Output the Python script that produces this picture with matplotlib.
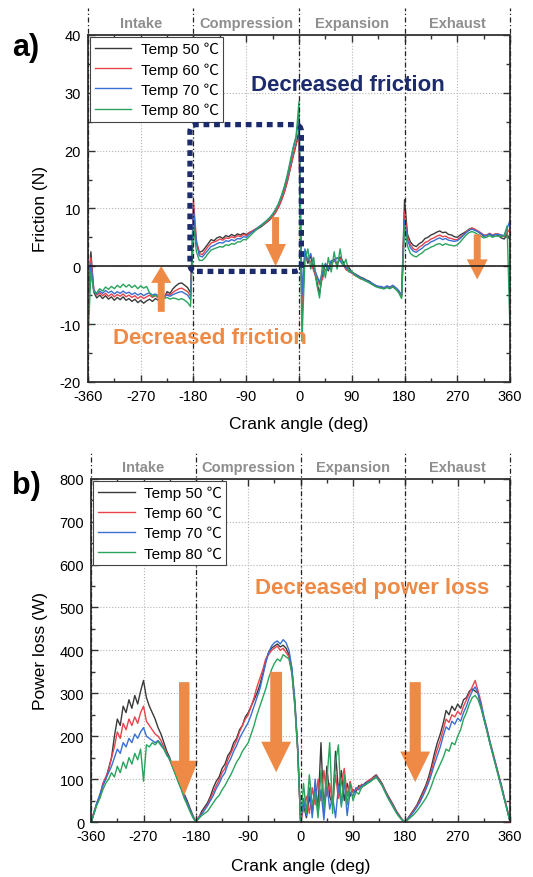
import numpy as np
import matplotlib
matplotlib.use('Agg')
import matplotlib.pyplot as plt
import matplotlib.transforms as mtransforms
from matplotlib.patches import FancyBboxPatch

plt.rcParams['font.family'] = ['Liberation Sans', 'Noto Sans CJK KR', 'DejaVu Sans']
plt.rcParams['axes.unicode_minus'] = False

# crank angle grid, 5 deg steps over the 4-stroke cycle
crank_angle = list(range(-360, 361, 5))

legend_labels = ['Temp 50 ℃', 'Temp 60 ℃', 'Temp 70 ℃', 'Temp 80 ℃']
line_colors = ['#3a3a3a', '#e8434c', '#3a6fd3', '#2aa35c']

phase_names = ['Intake', 'Compression', 'Expansion', 'Exhaust']
phase_centers = [-270, -90, 90, 270]
phase_edges = [-360, -180, 0, 180, 360]

# friction force (N)
friction_50 = [
    -6.0, 2.5, -4.5, -5.5, -5.0, -5.6, -5.1, -5.7, -5.3,
    -5.9, -5.4, -5.8, -5.3, -5.9, -5.6, -6.1, -5.7, -6.3,
    -5.9, -6.4, -6.0, -5.7, -6.1, -5.6, -5.9, -5.3, -5.5,
    -4.4, -4.7, -3.9, -3.4, -3.0, -2.9, -3.3, -3.7, -4.6,
    8.5, 4.0, 2.4, 2.6, 3.2, 3.9, 4.6, 4.4, 4.9,
    5.1, 4.8, 5.3, 5.1, 5.5, 5.2, 5.6, 5.4, 5.7,
    5.5, 5.8, 6.0, 6.2, 6.5, 6.8, 7.2, 7.6, 8.0,
    8.6, 9.3, 10.2, 11.4, 12.8, 14.6, 16.8, 19.0, 21.0,
    23.5, -9.0, 2.5, 0.5, 1.8, -0.5, -2.5, -4.8, -1.5,
    0.3, -0.8, 0.6, 1.2, 0.2, 1.6, 0.8, -0.4, -0.2,
    -1.0, -1.3, -1.6, -1.9, -2.1, -2.4, -2.6, -3.0, -3.3,
    -3.5, -3.7, -3.9, -3.6, -3.8, -3.5, -3.9, -4.4, -5.2,
    11.5, 5.5, 4.2, 3.6, 3.4, 3.9, 4.2, 4.8, 5.0,
    5.4, 5.6, 5.9, 6.1, 5.8, 5.9, 5.5, 5.4, 5.1,
    5.0, 5.4, 5.7, 6.0, 6.4, 6.6, 6.3, 6.0, 5.6,
    5.2, 5.3, 5.6, 5.2, 5.5, 5.3, 4.9, 4.7, 5.5,
    4.5]
friction_60 = [
    -4.0, 1.5, -4.0, -5.0, -4.6, -5.1, -4.7, -5.2, -4.8,
    -5.3, -4.9, -5.2, -4.8, -5.3, -5.0, -5.4, -5.1, -5.6,
    -5.2, -5.6, -5.3, -5.0, -5.4, -5.1, -5.5, -5.0, -5.3,
    -4.8, -5.0, -4.5, -4.2, -3.9, -3.8, -4.1, -4.4, -5.2,
    11.5, 4.5, 2.2, 2.0, 2.7, 3.4, 4.0, 4.2, 4.4,
    4.7, 4.5, 4.9, 4.8, 5.1, 4.9, 5.3, 5.1, 5.5,
    5.3, 5.8, 6.1, 6.4, 6.7, 7.0, 7.3, 7.7, 8.1,
    8.6, 9.3, 10.2, 11.5, 12.9, 14.7, 16.9, 19.2, 21.3,
    22.0, -7.0, 1.5, 1.2, 0.8, -0.8, -1.8, -3.2, -2.2,
    -0.6, -0.2, 0.4, 1.0, 0.6, 1.3, 0.4, -0.6, -0.9,
    -1.2, -1.6, -1.8, -2.2, -2.3, -2.6, -2.8, -3.1, -3.4,
    -3.6, -3.6, -3.8, -3.5, -3.7, -3.4, -3.8, -4.3, -5.3,
    9.5, 5.0, 3.7, 3.0, 2.8, 3.3, 3.6, 4.1, 4.3,
    4.7, 4.9, 5.2, 5.4, 5.1, 5.2, 4.9, 4.8, 4.6,
    4.6, 5.0, 5.4, 5.9, 6.3, 6.6, 6.4, 6.1, 5.8,
    5.4, 5.4, 5.7, 5.4, 5.6, 5.6, 5.3, 5.1, 5.8,
    6.5]
friction_70 = [
    -9.0, 0.5, -4.2, -4.8, -4.3, -4.7, -4.2, -4.6, -4.3,
    -4.8, -4.4, -4.7, -4.3, -4.7, -4.5, -4.9, -4.6, -5.0,
    -4.7, -5.1, -4.8, -4.6, -5.0, -4.8, -5.1, -4.9, -5.2,
    -5.0, -5.2, -4.9, -4.7, -4.5, -4.4, -4.7, -5.0, -5.8,
    10.0, 4.0, 1.8, 1.6, 2.2, 2.8, 3.4, 3.6, 3.9,
    4.1, 4.0, 4.4, 4.3, 4.6, 4.4, 4.8, 4.7, 5.1,
    5.0, 5.5, 5.9, 6.3, 6.7, 7.1, 7.5, 7.9, 8.4,
    9.0, 9.8, 10.8, 12.1, 13.6, 15.5, 17.8, 20.3, 22.3,
    26.0, -5.0, 3.0, 1.0, 2.2, 0.0, -1.5, -2.8, -1.0,
    0.5, -0.5, 1.0, 0.8, 1.5, 0.9, 0.2, -0.3, -0.7,
    -1.1, -1.4, -1.7, -2.0, -2.2, -2.5, -2.7, -3.0, -3.3,
    -3.5, -3.5, -3.7, -3.4, -3.6, -3.3, -3.7, -4.2, -5.0,
    8.0, 4.5, 3.2, 2.6, 2.4, 2.8, 3.1, 3.6, 3.8,
    4.2, 4.4, 4.7, 4.9, 4.6, 4.8, 4.5, 4.4, 4.3,
    4.4, 4.8, 5.3, 5.8, 6.2, 6.4, 6.2, 6.0, 5.7,
    5.3, 5.3, 5.6, 5.3, 5.5, 5.5, 5.4, 5.3, 6.5,
    8.0]
friction_80 = [
    -13.0, -1.0, -4.5, -4.6, -3.9, -4.3, -3.6, -4.0, -3.5,
    -3.9, -3.3, -3.7, -3.1, -3.6, -3.2, -3.7, -3.3, -3.9,
    -3.4, -3.8, -3.5, -4.6, -5.2, -5.0, -5.4, -5.2, -5.6,
    -5.4, -5.7, -5.5, -5.6, -5.8, -5.6, -5.9, -6.3, -7.0,
    7.0, 2.5, 1.0, 1.0, 1.5, 2.2, 2.8, 3.0, 3.2,
    3.4, 3.3, 3.7, 3.6, 3.9, 3.8, 4.2, 4.2, 4.6,
    4.6, 5.1, 5.6, 6.1, 6.6, 7.0, 7.4, 7.9, 8.4,
    9.0, 9.8, 10.8, 12.2, 13.8, 15.8, 18.2, 20.6, 22.5,
    28.5, -13.0, 1.0, 3.0, -0.5, 1.5, -3.0, -5.5, 0.5,
    -2.0, 1.5, -1.0, 2.5, -0.5, 3.0, 0.0, 1.2, -1.0,
    -0.8, -1.5, -1.9, -2.1, -2.4, -2.6, -2.9, -3.2, -3.5,
    -3.7, -3.8, -3.9, -3.7, -3.9, -3.6, -4.0, -4.6, -5.6,
    7.0, 3.5, 2.2, 1.8, 1.6, 2.0, 2.3, 2.8, 3.0,
    3.3, 3.5, 3.8, 3.9, 3.6, 3.9, 3.7, 3.6, 3.5,
    3.7, 4.2, 4.8, 5.4, 5.8, 6.0, 5.8, 5.5, 5.2,
    4.9, 5.0, 5.3, 5.0, 5.2, 5.2, 5.1, 5.3, 7.0,
    -12.0]

# friction power loss (W)
power_50 = [
    0, 20, 45, 60, 85, 100, 125, 150, 200,
    240, 225, 270, 255, 285, 265, 295, 275, 305,
    330, 290, 270, 255, 240, 220, 205, 185, 165,
    150, 130, 115, 100, 85, 65, 50, 32, 15,
    0, 10, 25, 35, 45, 60, 80, 95, 105,
    125, 135, 155, 165, 185, 195, 215, 225, 245,
    255, 270, 285, 300, 320, 345, 375, 395, 405,
    410, 415, 408, 412, 405, 390, 355, 280, 170,
    0, 40, 10, 60, 20, 90, 30, 185, 20,
    130, 60, 40, 165, 70, 120, 50, 90, 60,
    75, 70, 85, 80, 90, 95, 98, 105, 110,
    100, 90, 75, 62, 50, 38, 25, 15, 5,
    0, 10, 20, 30, 40, 55, 70, 85, 105,
    130, 160, 185, 205, 230, 260, 250, 270, 260,
    275, 265, 285, 290, 305, 310, 305, 300, 270,
    240, 215, 185, 160, 135, 110, 85, 55, 30,
    0]
power_60 = [
    0, 25, 45, 60, 90, 105, 120, 150, 175,
    210, 195, 230, 215, 240, 225, 245, 230, 255,
    270, 235, 225, 215, 205, 200, 190, 175, 160,
    145, 128, 112, 95, 80, 60, 45, 28, 12,
    0, 12, 20, 30, 40, 55, 70, 85, 98,
    115, 125, 145, 160, 175, 190, 210, 225, 240,
    250, 270, 290, 315, 335, 355, 380, 390, 400,
    405, 410, 400, 405, 395, 385, 350, 275, 165,
    0, 30, 60, 20, 80, 40, 100, 50, 120,
    60, 90, 40, 110, 55, 90, 125, 60, 95,
    70, 75, 80, 88, 85, 95, 100, 103, 108,
    98, 88, 74, 60, 48, 36, 24, 14, 5,
    0, 8, 18, 28, 38, 50, 65, 80, 98,
    120, 148, 170, 190, 215, 240, 232, 250, 245,
    258, 250, 270, 285, 300, 315, 330, 305, 280,
    245, 220, 190, 165, 138, 112, 86, 58, 30,
    0]
power_70 = [
    0, 22, 45, 65, 85, 100, 115, 130, 150,
    170, 160, 185, 175, 195, 185, 205, 195, 210,
    220, 200, 195, 190, 185, 190, 182, 170, 158,
    145, 130, 112, 95, 78, 60, 45, 28, 12,
    0, 10, 18, 28, 38, 50, 62, 78, 90,
    105, 115, 135, 148, 165, 178, 195, 208, 220,
    232, 250, 270, 290, 310, 340, 370, 395, 410,
    418, 422, 415, 425, 418, 400, 360, 285, 175,
    0, 55, 15, 80, 10, 100, 20, 75, 5,
    90, 30, 60, 10, 85, 40, 95, 15, 70,
    60, 80, 75, 85, 88, 92, 96, 100, 106,
    96, 86, 72, 58, 46, 34, 22, 12, 4,
    0, 8, 16, 25, 35, 46, 60, 75, 92,
    112, 135, 155, 175, 200, 222, 215, 235, 228,
    242, 235, 255, 270, 290, 305, 315, 300, 275,
    245, 218, 190, 162, 136, 110, 84, 56, 28,
    0]
power_80 = [
    0, 20, 40, 55, 75, 90, 100, 115, 105,
    130, 115, 140, 125, 150, 135, 160, 145, 170,
    95, 180, 175, 185, 180, 188, 178, 170, 155,
    148, 128, 110, 92, 75, 55, 40, 24, 10,
    0, 8, 15, 20, 25, 35, 45, 55, 62,
    75, 85, 98, 110, 125, 140, 150, 165, 175,
    185, 205, 225, 250, 270, 290, 310, 335, 355,
    370, 380, 375, 390, 385, 380, 345, 270, 165,
    0, 90, 20, 110, 40, 70, 10, 120, 30,
    95, 185, 20, 140, 180, 35, 110, 40, 90,
    50, 70, 65, 82, 85, 90, 94, 100, 104,
    95, 85, 70, 56, 44, 32, 20, 11, 4,
    0, 6, 12, 18, 26, 35, 45, 55, 68,
    85, 105, 120, 135, 150, 170, 165, 185, 180,
    200, 215, 240, 255, 275, 290, 295, 285, 265,
    240, 212, 185, 158, 132, 106, 80, 54, 27,
    0]

orange = '#ee8a45'
navy = '#1c2b6c'
phase_grey = '#8e8e8e'


def block_arrow(ax, x, y_from, y_to, tail, head_w, head_l):
    style = 'simple,head_length=%g,head_width=%g,tail_width=%g' % (head_l, head_w, tail)
    ax.annotate('', xy=(x, y_to), xytext=(x, y_from),
                arrowprops=dict(arrowstyle=style, color=orange, lw=0,
                                shrinkA=0, shrinkB=0, mutation_scale=10))


def draw_panel(ax, series, ylim, ystep, yminor, ylabel):
    for vals, name, col in zip(series, legend_labels, line_colors):
        ax.plot(crank_angle, vals, color=col, lw=1.0, label=name)
    ax.set_xlim(-360, 360)
    ax.set_ylim(*ylim)
    ax.set_xticks(np.arange(-360, 361, 90))
    ax.set_xticks(np.arange(-360, 361, 45), minor=True)
    ax.set_yticks(np.arange(ylim[0], ylim[1] + 1, ystep))
    ax.set_yticks(np.arange(ylim[0], ylim[1] + 1, yminor), minor=True)
    ax.tick_params(which='both', direction='in', top=True, right=True,
                   labelsize=10.5, color='#333333', width=1.0)
    ax.tick_params(which='major', length=5, pad=5)
    ax.tick_params(which='minor', length=3)
    for sp in ax.spines.values():
        sp.set_linewidth(1.3)
        sp.set_color('#333333')
    ax.grid(True, which='major', ls=':', color='#b5b5b5', lw=0.8)
    ax.set_xlabel('Crank angle (deg)', fontsize=12.5)
    ax.set_ylabel(ylabel, fontsize=12.5)

    trans = mtransforms.blended_transform_factory(ax.transData, ax.transAxes)
    for edge in phase_edges:
        ax.plot([edge, edge], [0, 1.078], transform=trans, color='#222222',
                lw=0.9, ls=(0, (4, 2, 1, 2)), clip_on=False, zorder=5)
    for name, c in zip(phase_names, phase_centers):
        ax.text(c, 1.034, name, transform=trans, ha='center', va='center',
                fontsize=10.5, fontweight='bold', color=phase_grey)

    leg = ax.legend(loc='upper left', bbox_to_anchor=(0.0, 1.0), fontsize=11,
                    frameon=True, fancybox=False, edgecolor='#444444',
                    framealpha=1, borderaxespad=0.15, handlelength=2.4,
                    handletextpad=0.6, labelspacing=0.38, borderpad=0.3)
    leg.get_frame().set_linewidth(0.8)
    leg.set_zorder(6)


fig = plt.figure(figsize=(5.33, 8.78), dpi=100)
ax1 = fig.add_axes([0.165, 0.564, 0.792, 0.395])
ax2 = fig.add_axes([0.171, 0.0626, 0.786, 0.391])

# (a) friction
draw_panel(ax1, [friction_50, friction_60, friction_70, friction_80],
           (-20, 40), 10, 5, 'Friction (N)')
ax1.axhline(0, color='#222222', lw=1.2, zorder=4)
ax1.yaxis.set_label_coords(-0.094, 0.5)
ax1.xaxis.set_label_coords(0.5, -0.1)

box = FancyBboxPatch((-186, -0.9), 190, 25.4,
                     boxstyle='round,pad=0,rounding_size=12',
                     mutation_aspect=0.1014, fill=False, ec=navy, lw=3.8,
                     ls=(0, (1.1, 0.9)), zorder=7, clip_on=False)
ax1.add_patch(box)
ax1.text(84, 31.5, 'Decreased friction', ha='center', va='center',
         fontsize=16, fontweight='bold', color=navy, zorder=8)
ax1.text(-152, -12.4, 'Decreased friction', ha='center', va='center',
         fontsize=16, fontweight='bold', color=orange, zorder=8)
block_arrow(ax1, -235, -7.9, 0, 0.5, 1.45, 1.2)
block_arrow(ax1, -40, 8.5, 0, 0.5, 1.5, 1.6)
block_arrow(ax1, 304, 5.5, -2.3, 0.5, 1.5, 1.45)

# (b) power loss
draw_panel(ax2, [power_50, power_60, power_70, power_80],
           (0, 800), 100, 50, 'Power loss (W)')
ax2.yaxis.set_label_coords(-0.102, 0.5)
ax2.xaxis.set_label_coords(0.5, -0.105)
ax2.text(123, 546, 'Decreased power loss', ha='center', va='center',
         fontsize=16, fontweight='bold', color=orange, zorder=8)
block_arrow(ax2, -200, 326, 62, 0.75, 2.0, 2.5)
block_arrow(ax2, -42, 350, 116, 0.85, 2.15, 2.2)
block_arrow(ax2, 197, 326, 93, 0.8, 2.15, 2.2)

fig.text(0.048, 0.945, 'a)', fontsize=22, fontweight='bold', ha='center', va='center')
fig.text(0.05, 0.447, 'b)', fontsize=22, fontweight='bold', ha='center', va='center')

fig.savefig('out.png', dpi=100)
